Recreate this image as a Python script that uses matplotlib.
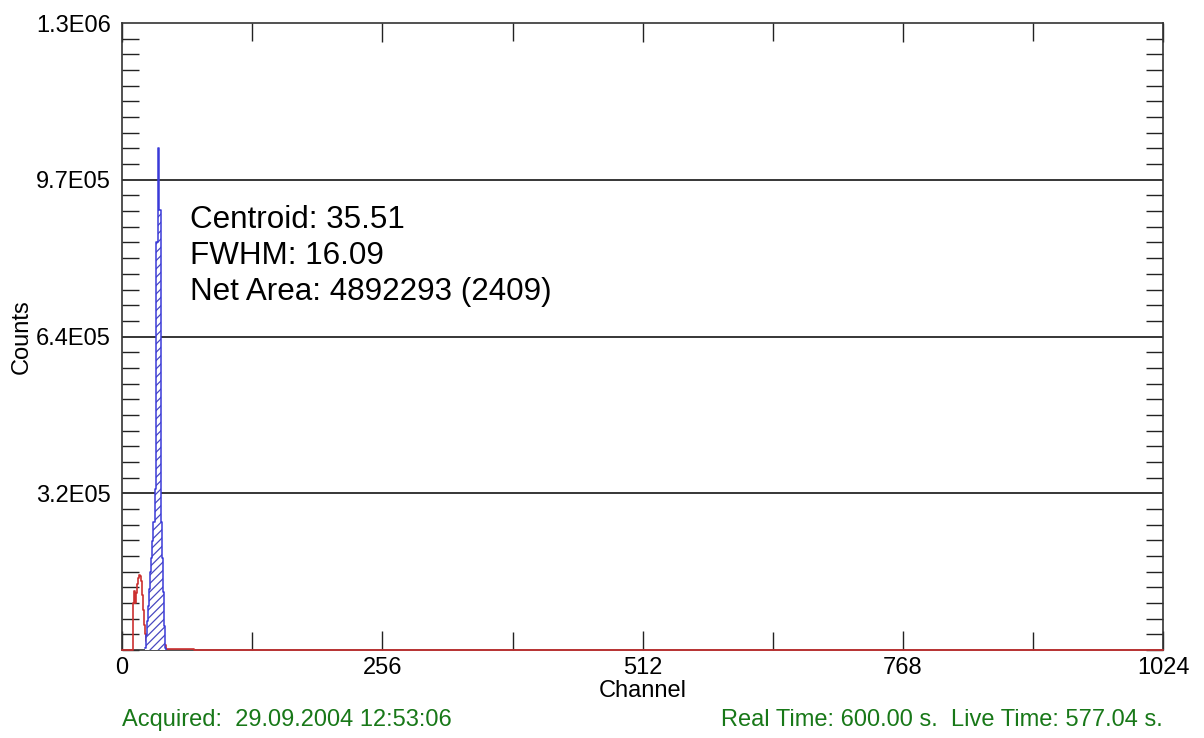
import matplotlib.pyplot as plt
from matplotlib.ticker import MultipleLocator, FixedLocator

plt.rcParams['font.family'] = ['Liberation Sans', 'DejaVu Sans']

# spectrum (red), counts per channel
red_channels = [0, 10, 11, 12, 13, 14, 15, 16, 17, 18, 19, 20, 21, 22, 23, 24, 25,
                26, 43, 70, 71, 1023, 1024]
red_counts = [0, 0, 97000, 121000, 97000, 118000, 135000, 149000, 155000, 153000,
              143000, 114000, 83000, 52000, 33000, 19000, 15000, 10000, 2000, 2000, 0, 0, 0]

# peak region (blue, hatched)
peak_channels = [23, 24, 25, 26, 27, 28, 29, 30, 31, 32, 33, 34, 35, 36, 37, 38,
                 39, 40, 41, 42, 43]
peak_counts = [5000, 30000, 60000, 90000, 125000, 160000, 190000, 225000, 263000,
               332000, 840000, 840000, 1032000, 906000, 906000, 263000, 190000,
               120000, 50000, 5000, 0]

y_ticks = [322500, 645000, 967500, 1290000]
y_labels = ['3.2E05', '6.4E05', '9.7E05', '1.3E06']
x_ticks = [0, 256, 512, 768, 1024]

info_lines = ['Centroid: 35.51', 'FWHM: 16.09', 'Net Area: 4892293 (2409)']
acquired = 'Acquired:  29.09.2004 12:53:06'
times = 'Real Time: 600.00 s.  Live Time: 577.04 s.'

fig = plt.figure(figsize=(12.04, 7.38), dpi=100)
ax = fig.add_axes([0.1013, 0.1192, 0.8650, 0.8496])

ax.set_xlim(0, 1024)
ax.set_ylim(0, 1290000)

# grid lines at labelled counts
for yt in y_ticks[:-1]:
    ax.axhline(yt, color='black', lw=1.1, zorder=1)

ax.step(red_channels, red_counts, where='post', color='#cc3030', lw=1.2, zorder=3,
        clip_on=False)

plt.rcParams['hatch.color'] = '#4848c0'
plt.rcParams['hatch.linewidth'] = 0.9
ax.fill_between(peak_channels, peak_counts, step='post', facecolor='white',
                edgecolor='#4848c0', hatch='////', lw=0, zorder=4)
ax.step(peak_channels, peak_counts, where='post', color='#3a3ad8', lw=1.1, zorder=5)

ax.yaxis.set_major_locator(FixedLocator(y_ticks))
ax.set_yticklabels(y_labels)
ax.yaxis.set_minor_locator(MultipleLocator(32250))
ax.xaxis.set_major_locator(FixedLocator(x_ticks))
ax.set_xticklabels([str(v) for v in x_ticks])
ax.xaxis.set_minor_locator(MultipleLocator(128))

ax.tick_params(axis='both', which='both', direction='in', top=True, right=True,
               colors='#222222', labelcolor='black', labelsize=17)
ax.tick_params(axis='y', which='major', length=0, pad=8)
ax.tick_params(axis='y', which='minor', length=12, width=1)
ax.tick_params(axis='x', which='major', length=14, width=1, pad=5)
ax.tick_params(axis='x', which='minor', length=13, width=1)

for s in ax.spines.values():
    s.set_color('#333333')
    s.set_linewidth(1.2)

ax.set_xlabel('Channel', fontsize=17, labelpad=1)
ax.set_ylabel('Counts', fontsize=17, labelpad=2)

for i, line in enumerate(info_lines):
    ax.text(0.065, 0.686 - i * 0.0572, line, transform=ax.transAxes,
            fontsize=22.6, va='center', ha='left', zorder=6)

fig.text(122 / 1204, 1 - 720 / 738, acquired, color='#187818', fontsize=17,
         ha='left', va='center')
fig.text(1163 / 1204, 1 - 720 / 738, times, color='#187818', fontsize=17,
         ha='right', va='center')

fig.savefig('out.png', dpi=100)
